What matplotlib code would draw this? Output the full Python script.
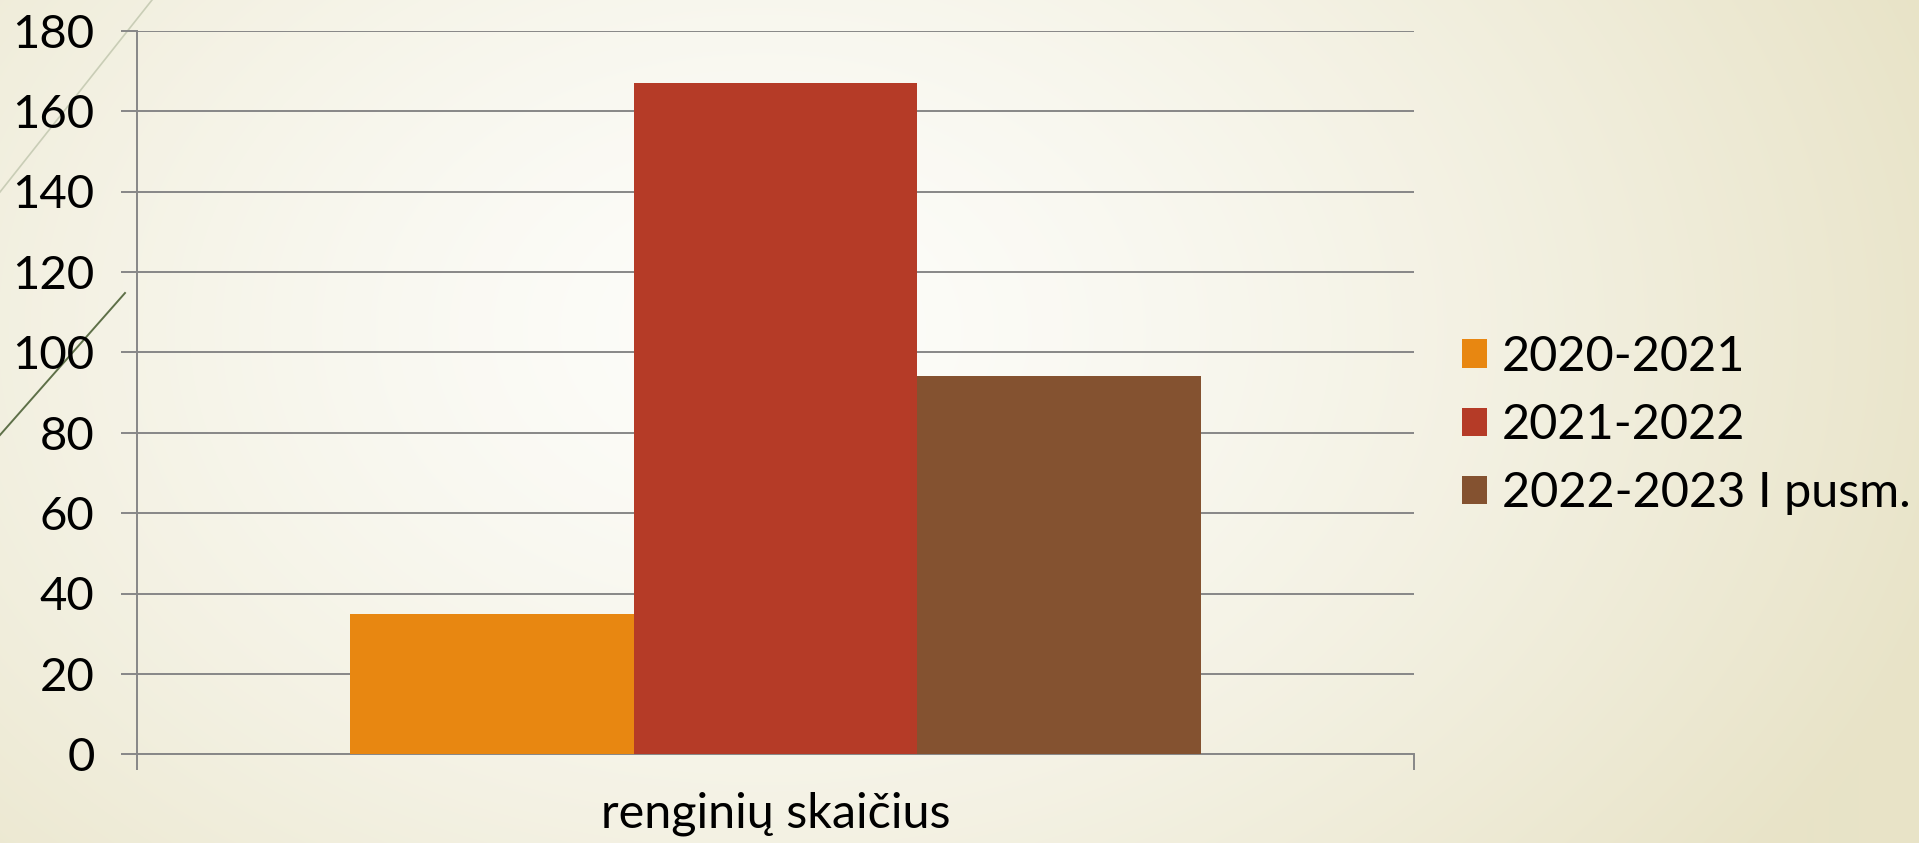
import numpy as np
import matplotlib.pyplot as plt
from matplotlib.lines import Line2D

# data
category = ["renginių skaičius"]
series = ["2020-2021", "2021-2022", "2022-2023 I pusm."]
values = [35, 167, 94]
colors = ["#E88711", "#B53B27", "#845230"]
yticks = [0, 20, 40, 60, 80, 100, 120, 140, 160, 180]

plt.rcParams['font.family'] = ['Lato', 'DejaVu Sans']
W, H = 1919, 843
fig = plt.figure(figsize=(W / 100, H / 100), dpi=100)

#- background: soft radial gradient, white in the middle, beige to the edges
bg = fig.add_axes([0, 0, 1, 1], zorder=0)
yy, xx = np.mgrid[0:H, 0:W]
d = np.sqrt(((xx - 760) / 1250.0) ** 2 + ((yy - 330) / 900.0) ** 2)
t = np.clip(d, 0, 1) ** 1.4
c0 = np.array([253, 253, 250]) / 255
c1 = np.array([232, 227, 199]) / 255
img = c0[None, None, :] * (1 - t[..., None]) + c1[None, None, :] * t[..., None]
bg.imshow(img, aspect='auto', extent=[0, 1, 0, 1])
bg.axis('off')

#- decorative diagonal strokes at the upper left
fig.add_artist(Line2D([0, 152 / W], [1 - 192 / H, 1], transform=fig.transFigure,
                      color="#C9CDB6", lw=1.2, zorder=1))
fig.add_artist(Line2D([0, 125 / W], [1 - 435 / H, 1 - 293 / H], transform=fig.transFigure,
                      color="#5E7048", lw=1.4, zorder=1))

#- chart
ax = fig.add_axes([137 / W, 1 - 754.3 / H, (1414 - 137) / W, (754.3 - 30.7) / H], zorder=2)
ax.patch.set_alpha(0)

n = len(series)
w = (2 / 3) / n
x0 = np.arange(len(category))
for i in range(n):
    ax.bar(x0 + (i - (n - 1) / 2) * w, [values[i]], width=w, color=colors[i],
           label=series[i], zorder=3)

ax.set_xlim(-0.5, 0.5)
ax.set_ylim(0, 180)
ax.set_yticks(yticks)
ax.yaxis.grid(True, color="#878787", lw=1.4)
ax.set_axisbelow(True)

grey = "#878787"
for s in ['top', 'right']:
    ax.spines[s].set_visible(False)
for s in ['left', 'bottom']:
    ax.spines[s].set_color(grey)
    ax.spines[s].set_linewidth(1.4)

ax.tick_params(axis='y', length=11.5, width=1.4, color=grey, pad=19, labelsize=34)
ax.set_xticks(x0, labels=category)
ax.set_xticks([-0.5, 0.5], minor=True)
ax.tick_params(axis='x', which='major', length=0, pad=27, labelsize=35)
ax.tick_params(axis='x', which='minor', length=11.5, width=1.4, color=grey)

leg = ax.legend(loc='center left', bbox_to_anchor=(1462 / W, 1 - 425 / H),
                bbox_transform=fig.transFigure, frameon=False, fontsize=35,
                handlelength=0.52, handleheight=0.52, handletextpad=0.3,
                labelspacing=0.5, borderpad=0, borderaxespad=0)

fig.savefig("out.png", dpi=100)
